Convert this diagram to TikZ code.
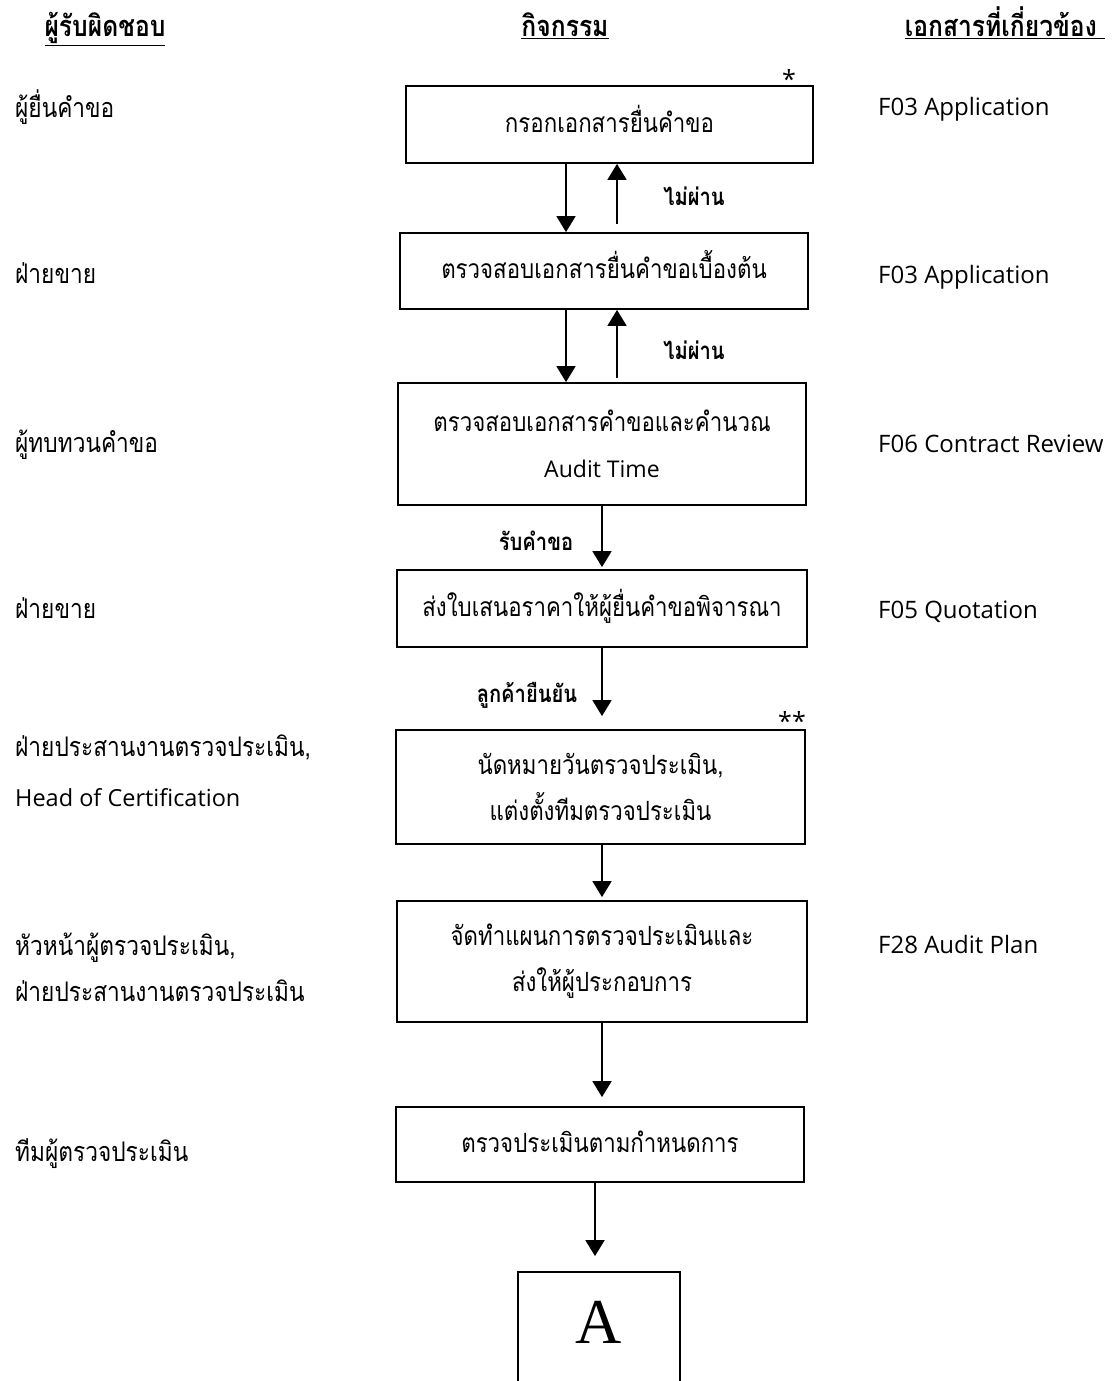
\documentclass[tikz,border=0pt]{standalone}
\usepackage{fontspec}
\setmainfont{Open Sans}
\newfontfamily\thai[Script=Thai,FakeStretch=0.84]{Loma}
\newfontfamily\thaihead[Script=Thai,FakeStretch=0.85]{Loma}
\newfontfamily\latin{Open Sans}
\newfontfamily\serifA{Liberation Serif}
\usetikzlibrary{arrows.meta}
\tikzset{
  box/.style={draw, line width=1.8pt, inner sep=0pt, align=center,
    font=\thai\fontsize{26.5}{46}\selectfont},
  oneline/.style={text height=15pt, text depth=0pt},
  side/.style={anchor=base west, inner sep=0pt, font=\thai\fontsize{27}{30}\selectfont},
  doc/.style={anchor=base west, inner sep=0pt, font=\latin\fontsize{24}{28}\selectfont},
  head/.style={anchor=base, inner sep=0pt, font=\thaihead\bfseries\fontsize{29}{32}\selectfont},
  lbl/.style={inner sep=0pt, font=\thai\bfseries\fontsize{24}{26}\selectfont},
  star/.style={inner sep=0pt, font=\latin\fontsize{25}{25}\selectfont},
  arr/.style={-{Triangle[width=19pt,length=16pt]}, line width=1.8pt},
}
\begin{document}
\begin{tikzpicture}[x=1pt,y=-1pt]
\useasboundingbox (0,0) rectangle (1117,1381);
% headers
\node[head] (h1) at (105,37) {\underline{ผู้รับผิดชอบ}};
\node[head] (h2) at (565,37) {\underline{กิจกรรม}};
\node[head] (h3) at (1005,37) {\underline{เอกสารที่เกี่ยวข้อง\ }};
% boxes
\node[box, oneline, minimum width=407pt, minimum height=77pt] (b1) at (609.5,124.5) {กรอกเอกสารยื่นคำขอ};
\node[box, oneline, minimum width=408pt, minimum height=76pt] (b2) at (604,271) {ตรวจสอบเอกสารยื่นคำขอเบื้องต้น};
\node[box, minimum width=408pt, minimum height=122pt] (b3) at (602,444) {ตรวจสอบเอกสารคำขอและคำนวณ\\{\latin\fontsize{23}{46}\selectfont Audit Time}};
\node[box, oneline, minimum width=410pt, minimum height=77pt] (b4) at (602,608.5) {ส่งใบเสนอราคาให้ผู้ยื่นคำขอพิจารณา};
\node[box, minimum width=409pt, minimum height=114pt] (b5) at (600.5,787) {นัดหมายวันตรวจประเมิน,\\แต่งตั้งทีมตรวจประเมิน};
\node[box, minimum width=410pt, minimum height=121pt] (b6) at (602,961.5) {จัดทำแผนการตรวจประเมินและ\\ส่งให้ผู้ประกอบการ};
\node[box, oneline, minimum width=408pt, minimum height=75pt] (b7) at (600,1144.5) {ตรวจประเมินตามกำหนดการ};
\node[draw, line width=1.8pt, inner sep=0pt, minimum width=162pt, minimum height=140pt] (bA) at (599,1342) {};
\node[inner sep=0pt, font=\serifA\fontsize{64}{64}\selectfont] (tA) at (599,1322) {A};
% stars
\node[star] (s1) at (789,79) {*};
\node[star] (s2) at (792,721) {**};
% left column
\node[side] (l1) at (15,117) {ผู้ยื่นคำขอ};
\node[side] (l2) at (15,283) {ฝ่ายขาย};
\node[side] (l3) at (15,452) {ผู้ทบทวนคำขอ};
\node[side] (l4) at (15,618) {ฝ่ายขาย};
\node[side] (l5a) at (15,756) {ฝ่ายประสานงานตรวจประเมิน,};
\node[side, font=\latin\fontsize{23.5}{26}\selectfont] (l5b) at (15,806) {Head of Certification};
\node[side] (l6a) at (15,955) {หัวหน้าผู้ตรวจประเมิน,};
\node[side] (l6b) at (15,1001) {ฝ่ายประสานงานตรวจประเมิน};
\node[side] (l7) at (15,1161) {ทีมผู้ตรวจประเมิน};
% right column
\node[doc] (r1) at (878,115) {F03 Application};
\node[doc] (r2) at (878,283) {F03 Application};
\node[doc] (r3) at (878,452) {F06 Contract Review};
\node[doc] (r4) at (878,618) {F05 Quotation};
\node[doc] (r6) at (878,953) {F28 Audit Plan};
% connector guides
\coordinate (xd) at (566,0);
\coordinate (u1) at (617,224);
\coordinate (u2) at (617,378);
\coordinate (xm) at (602,0);
\coordinate (xa) at (595,0);
% connectors
\draw[arr] (xd |- b1.south) -- (xd |- b2.north);
\draw[arr] (u1) -- (u1 |- b1.south);
\draw[arr] (xd |- b2.south) -- (xd |- b3.north);
\draw[arr] (u2) -- (u2 |- b2.south);
\draw[arr, shorten >=2pt] (xm |- b3.south) -- (xm |- b4.north);
\draw[arr, shorten >=13pt] (xm |- b4.south) -- (xm |- b5.north);
\draw[arr, shorten >=3pt] (xm |- b5.south) -- (xm |- b6.north);
\draw[arr, shorten >=9pt] (xm |- b6.south) -- (xm |- b7.north);
\draw[arr, shorten >=15pt] (xa |- b7.south) -- (xa |- bA.north);
% connector labels
\node[lbl] (n1) at (694,196) {ไม่ผ่าน};
\node[lbl] (n2) at (694,350) {ไม่ผ่าน};
\node[lbl] (n3) at (536,541) {รับคำขอ};
\node[lbl] (n4) at (527,695) {ลูกค้ายืนยัน};
\end{tikzpicture}
\end{document}
